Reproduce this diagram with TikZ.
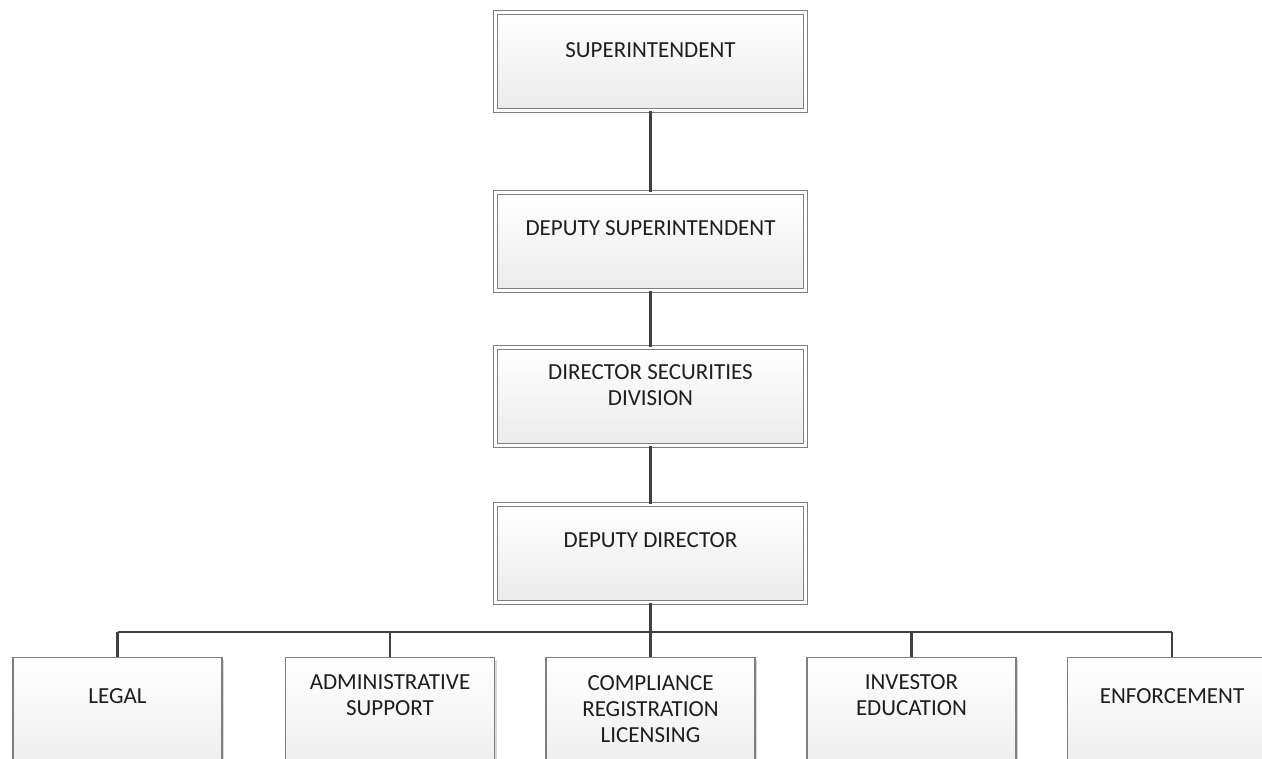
\documentclass[tikz,border=0pt]{standalone}
\usepackage{fontspec}
\setmainfont{Carlito}
\usetikzlibrary{shadows}
\definecolor{boxline}{HTML}{7F7F7F}
\definecolor{conn}{HTML}{404040}
\definecolor{txt}{HTML}{1E1E1E}
\tikzset{
  topbox/.style={draw=boxline, line width=1pt, double=white, double distance=3pt,
    top color=white, bottom color=black!8, minimum width=310pt, minimum height=98pt,
    inner sep=0pt, drop shadow={shadow xshift=2pt, shadow yshift=-2pt, opacity=0.25, fill=black!60}},
  unitbox/.style={draw=boxline, line width=1.2pt, top color=white, bottom color=black!8,
    minimum width=209pt, minimum height=130pt, inner sep=0pt,
    drop shadow={shadow xshift=2pt, shadow yshift=-2pt, opacity=0.25, fill=black!60}},
  lbl/.style={text=txt, font=\fontsize{23}{26}\selectfont, align=center, inner sep=0pt},
  conn/.style={draw=conn, line width=2.4pt}
}
\begin{document}
\begin{tikzpicture}[x=1pt, y=-1pt]
\useasboundingbox (0,0) rectangle (1262,759);
\clip (0,0) rectangle (1262,759);
\fill[white] (0,0) rectangle (1262,759);
\coordinate (bar) at (650.5,632);
\coordinate (barL) at (117.5,632);
\coordinate (barR) at (1172,632);
\node[topbox] (sup) at (650.5,61.5) {};
\node[topbox] (dsup) at (650.5,242) {};
\node[topbox] (dir) at (650.5,396.5) {};
\node[topbox] (dd) at (650.5,553.5) {};
\node[unitbox, anchor=north] (legal) at (117.5,657) {};
\node[unitbox, anchor=north] (admin) at (390,657) {};
\node[unitbox, anchor=north] (comp) at (650.5,657) {};
\node[unitbox, anchor=north] (inv) at (911.5,657) {};
\node[unitbox, anchor=north] (enf) at (1172,657) {};
\draw[conn] (sup.south) -- (dsup.north);
\draw[conn] (dsup.south) -- (dir.north);
\draw[conn] (dir.south) -- (dd.north);
\draw[conn] (dd.south) -- (bar);
\draw[conn] (barL) -- (barR);
\draw[conn] (barL) -- (legal.north);
\draw[conn] (admin.north |- bar) -- (admin.north);
\draw[conn] (bar) -- (comp.north);
\draw[conn] (inv.north |- bar) -- (inv.north);
\draw[conn] (barR) -- (enf.north);
\node[lbl] (tsup) at (650.5,50) {SUPERINTENDENT};
\node[lbl] (tdsup) at (650.5,228) {DEPUTY SUPERINTENDENT};
\node[lbl] (tdir) at (650.5,385) {DIRECTOR SECURITIES\\DIVISION};
\node[lbl] (tdd) at (650.5,540) {DEPUTY DIRECTOR};
\node[lbl] (tlegal) at (117.5,696) {LEGAL};
\node[lbl] (tadmin) at (390,695) {ADMINISTRATIVE\\SUPPORT};
\node[lbl] (tcomp) at (650.5,709) {COMPLIANCE\\REGISTRATION\\LICENSING};
\node[lbl] (tinv) at (911.5,695) {INVESTOR\\EDUCATION};
\node[lbl] (tenf) at (1172,696) {ENFORCEMENT};
\end{tikzpicture}
\end{document}
